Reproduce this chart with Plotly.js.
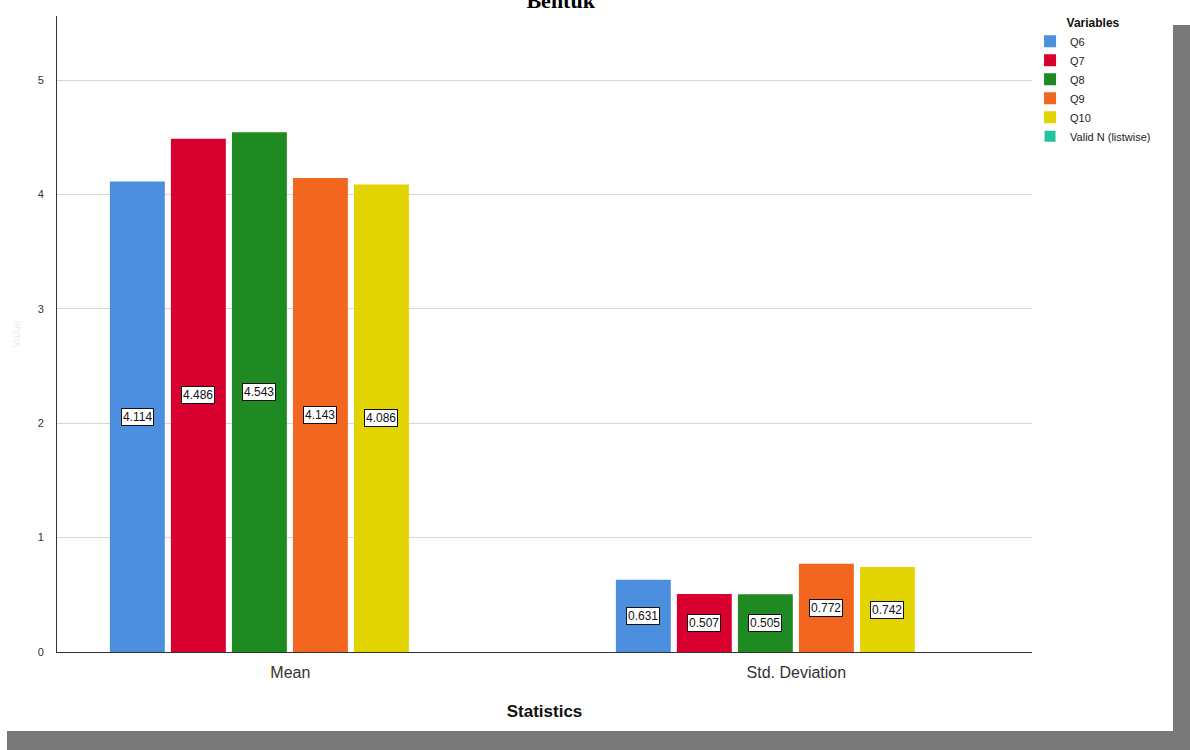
<!DOCTYPE html>
<html>
<head>
<meta charset="utf-8">
<script src="https://cdn.plot.ly/plotly-3.0.1.min.js"></script>
<style>
  html, body { margin: 0; padding: 0; background: #ffffff; }
  #wrap { position: relative; width: 1190px; height: 750px; overflow: hidden; }
  #shadow { position: absolute; left: 7px; top: 25px; width: 1183px; height: 725px; background: #787878; }
  #chart { position: absolute; left: 0; top: 0; width: 1173px; height: 731px; background: #ffffff; }
</style>
</head>
<body>
<div id="wrap">
  <div id="shadow"></div>
  <div id="chart"></div>
</div>
<script>
// ---- data ----
const categories = ["Mean", "Std. Deviation"];
const seriesNames = ["Q6", "Q7", "Q8", "Q9", "Q10"];
const q6 = [4.114, 0.631];
const q7 = [4.486, 0.507];
const q8 = [4.543, 0.505];
const q9 = [4.143, 0.772];
const q10 = [4.086, 0.742];
const labelsQ6 = ["4.114", "0.631"];
const labelsQ7 = ["4.486", "0.507"];
const labelsQ8 = ["4.543", "0.505"];
const labelsQ9 = ["4.143", "0.772"];
const labelsQ10 = ["4.086", "0.742"];
const extraLegendName = "Valid N (listwise)";
const yTicks = [0, 1, 2, 3, 4, 5];

// ---- styles ----
const colors = ["#4b8fde", "#d7002e", "#1f8a22", "#f3661f", "#e2d400"];
const extraColor = "#22c3a0";
const FONT = "Liberation Sans, Arial, sans-serif";

const seriesValues = [q6, q7, q8, q9, q10];
const seriesLabels = [labelsQ6, labelsQ7, labelsQ8, labelsQ9, labelsQ10];

const bargap = 0.397;
const plotWidthPx = 1173 - 57 - 141;
const xRange = [-0.40, 1.527];
const pxPerUnit = plotWidthPx / (xRange[1] - xRange[0]);
const slotPx = pxPerUnit * (1 - bargap) / seriesNames.length;

const traces = seriesNames.map((name, i) => ({
  type: "bar",
  name: name,
  x: categories,
  y: seriesValues[i],
  marker: { color: colors[i], line: { width: 0 } },
  hoverinfo: "skip"
}));

traces.push({
  type: "scatter",
  mode: "markers",
  name: extraLegendName,
  x: [null],
  y: [null],
  marker: { symbol: "square", size: 11, color: extraColor },
  hoverinfo: "skip"
});

const annotations = [];
seriesNames.forEach((name, i) => {
  categories.forEach((cat, j) => {
    annotations.push({
      x: cat,
      y: seriesValues[i][j] / 2,
      xref: "x",
      yref: "y",
      text: seriesLabels[i][j],
      showarrow: false,
      xshift: (i - (seriesNames.length - 1) / 2) * slotPx,
      font: { family: FONT, size: 12, color: "#111111" },
      bgcolor: "#ffffff",
      bordercolor: "#111111",
      borderwidth: 1,
      borderpad: 1
    });
  });
});

const layout = {
  width: 1173,
  height: 731,
  paper_bgcolor: "#ffffff",
  plot_bgcolor: "#ffffff",
  margin: { l: 57, r: 141, t: 15, b: 79 },
  font: { family: FONT, color: "#333333" },
  title: {
    text: "<b>Bentuk</b>",
    font: { family: "Liberation Serif, Times New Roman, serif", size: 22, color: "#000000" },
    xref: "container",
    yref: "container",
    x: 0.478,
    xanchor: "center",
    y: 1.0,
    yanchor: "middle"
  },
  barmode: "group",
  bargap: bargap,
  bargroupgap: 0.1,
  showlegend: true,
  legend: {
    x: 0.998,
    xanchor: "left",
    y: 1.006,
    yanchor: "top",
    bgcolor: "rgba(0,0,0,0)",
    font: { family: FONT, size: 11, color: "#222222" },
    title: { text: "<b>Variables</b>", side: "top center", font: { family: FONT, size: 12, color: "#111111" } },
    itemwidth: 30,
    tracegroupgap: 0
  },
  xaxis: {
    type: "category",
    range: xRange,
    showline: true,
    linecolor: "#333333",
    linewidth: 1,
    showgrid: false,
    ticks: "",
    tickfont: { family: FONT, size: 16, color: "#333333" },
    ticklabelshift: 31,
    ticklabelstandoff: 6,
    title: { text: "<b>Statistics</b>", font: { family: FONT, size: 17, color: "#111111" }, standoff: 24 },
    fixedrange: true
  },
  yaxis: {
    range: [0, 5.56],
    tickvals: yTicks,
    showline: true,
    linecolor: "#333333",
    linewidth: 1,
    showgrid: true,
    gridcolor: "#d6d6d6",
    gridwidth: 1,
    zeroline: false,
    ticks: "",
    ticklabelstandoff: 10,
    tickfont: { family: FONT, size: 11, color: "#333333" },
    title: { text: "Value", font: { family: FONT, size: 11, color: "#eeeeee" }, standoff: 14 },
    fixedrange: true
  },
  annotations: annotations
};

Plotly.newPlot("chart", traces, layout, { displayModeBar: false, staticPlot: true });
</script>
</body>
</html>
